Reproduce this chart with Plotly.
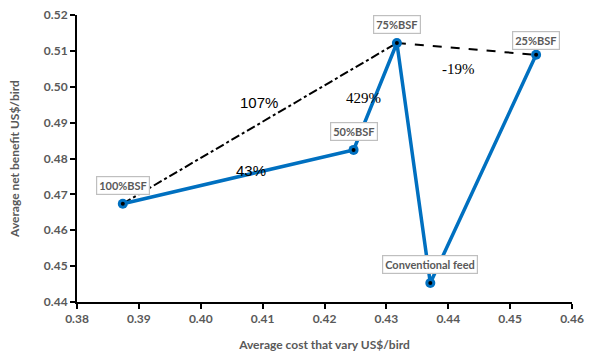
import plotly.graph_objects as go

# Treatments and their cost / net benefit per bird
treatments = ["100%BSF", "50%BSF", "75%BSF", "Conventional feed", "25%BSF"]
cost = [0.3874, 0.4247, 0.4317, 0.4371, 0.4542]
net_benefit = [0.4674, 0.4824, 0.5122, 0.4453, 0.5089]

# Marginal rate of return labels between treatments
mrr_labels = ["43%", "107%", "429%", "-19%"]
mrr_pos_x = [0.4081, 0.4094, 0.4263, 0.4417]
mrr_pos_y = [0.4766, 0.4955, 0.4969, 0.5050]
mrr_fonts = ["Liberation Sans, sans-serif", "Liberation Sans, sans-serif",
             "Liberation Serif, DejaVu Serif, serif", "Liberation Serif, DejaVu Serif, serif"]

# Label offsets (pixels) for each treatment box
label_ax = [0, 0, 0, 0, 0]
label_ay = [-18, -18, -18, -18, -14]

BLUE = "#0070C0"
GREY = "#595959"

fig = go.Figure()

# Dominance lines
fig.add_trace(go.Scatter(
    x=[cost[0], cost[2]], y=[net_benefit[0], net_benefit[2]],
    mode="lines", line=dict(color="black", width=2, dash="dashdot"),
    hoverinfo="skip", showlegend=False))
fig.add_trace(go.Scatter(
    x=[cost[2], cost[4]], y=[net_benefit[2], net_benefit[4]],
    mode="lines", line=dict(color="black", width=2, dash="dash"),
    hoverinfo="skip", showlegend=False))

# Main treatment path
fig.add_trace(go.Scatter(
    x=cost, y=net_benefit, mode="lines+markers",
    line=dict(color=BLUE, width=3.5),
    marker=dict(color=BLUE, size=10),
    showlegend=False))
fig.add_trace(go.Scatter(
    x=cost, y=net_benefit, mode="markers",
    marker=dict(color="black", size=4),
    hoverinfo="skip", showlegend=False))

for name, x, y, ax, ay in zip(treatments, cost, net_benefit, label_ax, label_ay):
    fig.add_annotation(
        x=x, y=y, text=name, showarrow=True, arrowcolor="rgba(0,0,0,0)",
        ax=ax, ay=ay, font=dict(family="Lato", size=11, color=GREY, weight="bold"),
        bgcolor="white", bordercolor="#BFBFBF", borderwidth=1.2, borderpad=2)

for t, x, y, fam in zip(mrr_labels, mrr_pos_x, mrr_pos_y, mrr_fonts):
    fig.add_annotation(
        x=x, y=y, text=t, showarrow=False,
        font=dict(family=fam, size=15, color="black"))

axis_common = dict(
    showgrid=False, zeroline=False, showline=True, linecolor="black",
    linewidth=2, ticks="outside", tickcolor="black", ticklen=5, tickwidth=2,
    tickfont=dict(family="Lato", size=12, color=GREY, weight="bold"),
    mirror=False, automargin=False)

fig.update_xaxes(range=[0.38, 0.46], dtick=0.01, tickformat=".2f",
                 title=dict(text="Average cost that vary US$/bird",
                            font=dict(family="Lato", size=12, color=GREY, weight="bold"),
                            standoff=15),
                 **axis_common)
fig.update_yaxes(range=[0.44, 0.52], dtick=0.01, tickformat=".2f",
                 title=dict(text="Average net benefit US$/bird",
                            font=dict(family="Lato", size=12, color=GREY, weight="bold"),
                            standoff=22),
                 **axis_common)

fig.update_layout(
    width=613, height=352,
    margin=dict(l=77, r=41, t=15, b=50),
    paper_bgcolor="white", plot_bgcolor="white")

fig.write_html("out.html")
